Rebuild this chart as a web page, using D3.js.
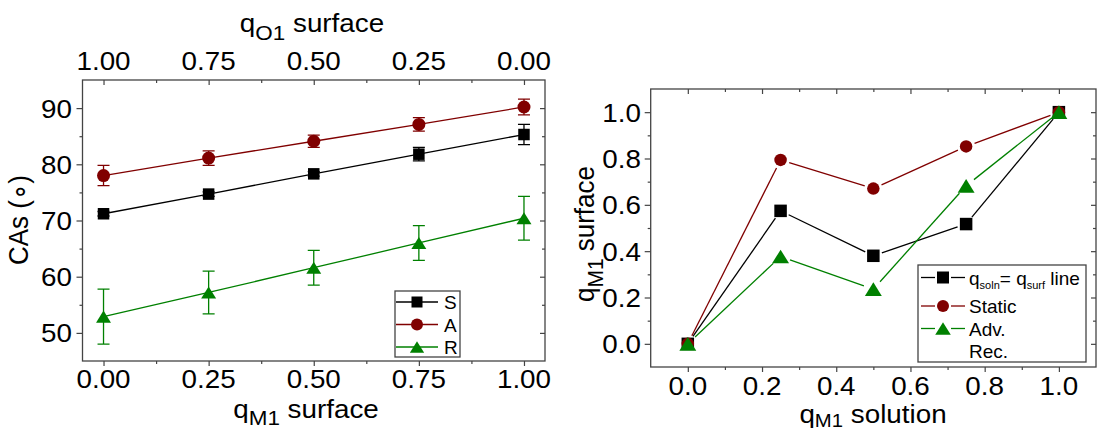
<!DOCTYPE html>
<html><head><meta charset="utf-8">
<script src="https://cdn.jsdelivr.net/npm/d3@7"></script>
<style>html,body{margin:0;padding:0;background:#fff;}svg{display:block;}</style>
</head><body>
<svg id="c" width="1097" height="432"></svg>
<script>
// ---------- data ----------
const qM1Surface = [0, 0.25, 0.5, 0.75, 1.0];
const qO1Ticks = [1.0, 0.75, 0.5, 0.25, 0.0];
const S_vals = [71.2, 74.7, 78.3, 81.8, 85.3];
const S_err  = [0.4, 0.4, 0.4, 1.2, 1.8];
const A_vals = [78.0, 81.1, 84.1, 87.1, 90.2];
const A_err  = [1.8, 1.3, 1.1, 1.2, 1.4];
const R_vals = [52.9, 57.2, 61.6, 66.0, 70.4];
const R_err  = [4.9, 3.8, 3.1, 3.1, 3.9];
const leftYTicks = [50, 60, 70, 80, 90];
const leftXTicks = [0, 0.25, 0.5, 0.75, 1.0];

const qM1Solution = [0, 0.25, 0.5, 0.75, 1.0];
const lineVals   = [0, 0.574, 0.38, 0.517, 1.0];
const staticVals = [0, 0.794, 0.67, 0.852, 1.0];
const advRecVals = [0, 0.377, 0.236, 0.682, 1.0];
const rightTicks = [0, 0.2, 0.4, 0.6, 0.8, 1.0];

const BLACK = "#000000", RED = "#800000", GREEN = "#008000", AXIS = "#444";
const FONT = "'Liberation Sans', Arial, sans-serif";
const SX = 1.07;

const svg = d3.select("#c");

// ---------- helpers ----------
function txt(g, x, y, anchor, size, parts, rot, sx) {
  const k = sx === undefined ? SX : sx;
  const t = g.append("text")
    .attr("transform", rot ? `translate(${x},${y}) rotate(-90) scale(1,${k})` : `translate(${x},${y}) scale(${k},1)`)
    .attr("text-anchor", anchor)
    .attr("font-family", FONT)
    .attr("font-size", size)
    .attr("fill", "#000");
  if (typeof parts === "string") { t.text(parts); return t; }
  parts.forEach(p => {
    const s = t.append("tspan").text(p.t);
    if (p.size) s.attr("font-size", p.size);
    if (p.dy) s.attr("dy", p.dy);
    if (p.dx) s.attr("dx", p.dx);
  });
  return t;
}
function frameAxes(g, x, y, xMaj, xMin, yMaj, yMin) {
  const [x0, x1] = x.range(), [y0, y1] = y.range();
  const mk = (gen, tx, ty) => g.append("g").attr("transform", `translate(${tx},${ty})`).call(gen)
      .call(s => { s.select(".domain").remove(); s.selectAll("text").remove(); s.selectAll("line").attr("stroke", AXIS).attr("stroke-width", 1.2); });
  mk(d3.axisBottom(x).tickValues(xMaj).tickSize(5).tickFormat(""), 0, y0);
  mk(d3.axisBottom(x).tickValues(xMin).tickSize(3).tickFormat(""), 0, y0);
  mk(d3.axisTop(x).tickValues(xMaj).tickSize(-5).tickFormat(""), 0, y1);
  mk(d3.axisTop(x).tickValues(xMin).tickSize(-3).tickFormat(""), 0, y1);
  mk(d3.axisLeft(y).tickValues(yMaj).tickSize(6).tickFormat(""), x0, 0);
  mk(d3.axisLeft(y).tickValues(yMin).tickSize(3).tickFormat(""), x0, 0);
  mk(d3.axisRight(y).tickValues(yMaj).tickSize(-5).tickFormat(""), x1, 0);
  mk(d3.axisRight(y).tickValues(yMin).tickSize(-3).tickFormat(""), x1, 0);
  g.append("rect").attr("x", x0).attr("y", y1).attr("width", x1 - x0).attr("height", y0 - y1)
    .attr("fill", "none").attr("stroke", AXIS).attr("stroke-width", 1.3);
}
function marker(g, type, cx, cy, color, sz) {
  if (type === "square") {
    g.append("rect").attr("x", cx - sz / 2).attr("y", cy - sz / 2).attr("width", sz).attr("height", sz).attr("fill", color);
  } else if (type === "circle") {
    g.append("circle").attr("cx", cx).attr("cy", cy).attr("r", sz / 2).attr("fill", color);
  } else {
    const w = sz * 1.3, h = sz * 1.05;
    g.append("path").attr("d", `M${cx},${cy - h / 2}L${cx + w / 2},${cy + h / 2}L${cx - w / 2},${cy + h / 2}Z`).attr("fill", color);
  }
}

// ---------- left chart ----------
{
  const x = d3.scaleLinear().domain([-0.05, 1.05]).range([82.5, 545]);
  const xTop = d3.scaleLinear().domain([1.05, -0.05]).range([82.5, 545]);
  const y = d3.scaleLinear().domain([45, 95]).range([361, 80]);
  const g = svg.append("g");
  const xMin = [0.125, 0.375, 0.625, 0.875];
  const yMin = [55, 65, 75, 85];
  frameAxes(g, x, y, leftXTicks, xMin, leftYTicks, yMin);

  leftXTicks.forEach(v => txt(g, x(v), 388, "middle", 26, v.toFixed(2)));
  qO1Ticks.forEach(v => txt(g, xTop(v), 70, "middle", 26, v.toFixed(2)));
  leftYTicks.forEach(v => txt(g, 72, y(v) + 9.5, "end", 26, String(v)));

  txt(g, 312, 32, "middle", 26, [{t: "q"}, {t: "O1", size: 21, dy: 8}, {t: " surface", dy: -8}]);
  txt(g, 306, 418, "middle", 26, [{t: "q"}, {t: "M1", size: 21, dy: 7}, {t: " surface", dy: -7}]);
  txt(g, 28, 220, "middle", 26, [{t: "CAs ("}, {t: "∘"}, {t: ")"}], true);

  const series = [
    {v: S_vals, e: S_err, c: BLACK, m: "square", sz: 11.5, name: "S"},
    {v: A_vals, e: A_err, c: RED, m: "circle", sz: 13, name: "A"},
    {v: R_vals, e: R_err, c: GREEN, m: "triangle", sz: 11.5, name: "R"}
  ];
  const line = d3.line().x(d => x(d[0])).y(d => y(d[1]));
  series.forEach(s => {
    const pts = qM1Surface.map((q, i) => [q, s.v[i]]);
    g.append("path").attr("d", line(pts)).attr("fill", "none").attr("stroke", s.c).attr("stroke-width", 1.3);
    pts.forEach((p, i) => {
      const px = x(p[0]), yt = y(p[1] + s.e[i]), yb = y(p[1] - s.e[i]);
      g.append("path").attr("d", `M${px},${yt}V${yb}M${px - 6},${yt}H${px + 6}M${px - 6},${yb}H${px + 6}`)
        .attr("stroke", s.c).attr("stroke-width", 1.3).attr("fill", "none");
    });
    pts.forEach(p => marker(g, s.m, x(p[0]), y(p[1]), s.c, s.sz));
  });
  // legend
  const lg = g.append("g");
  lg.append("rect").attr("x", 395).attr("y", 291).attr("width", 65).attr("height", 66)
    .attr("fill", "#fff").attr("stroke", AXIS).attr("stroke-width", 1.3);
  series.forEach((s, i) => {
    const ly = 302 + i * 22.5;
    lg.append("line").attr("x1", 396).attr("x2", 438).attr("y1", ly).attr("y2", ly).attr("stroke", s.c).attr("stroke-width", 1.3);
    marker(lg, s.m, 417, ly, s.c, s.m === "circle" ? 12 : 11);
    txt(lg, 444, ly + 7, "start", 19, s.name, false, 1.0);
  });
}

// ---------- right chart ----------
{
  const x = d3.scaleLinear().domain([-0.1, 1.1]).range([650.7, 1096]);
  const y = d3.scaleLinear().domain([-0.1, 1.1]).range([367, 89]);
  const g = svg.append("g");
  const minor = [0.1, 0.3, 0.5, 0.7, 0.9];
  frameAxes(g, x, y, rightTicks, minor, rightTicks, minor);

  rightTicks.forEach(v => txt(g, x(v), 395, "middle", 26, v.toFixed(1)));
  rightTicks.forEach(v => txt(g, 641, y(v) + 9.5, "end", 26, v.toFixed(1)));
  txt(g, 873, 423, "middle", 26, [{t: "q"}, {t: "M1", size: 19, dy: 4}, {t: " solution", dy: -4}]);
  txt(g, 594, 234, "middle", 26, [{t: "q"}, {t: "M1", size: 21, dy: 8}, {t: "surface", dy: -8, dx: 7}], true);

  const series = [
    {v: lineVals, c: BLACK, m: "square", sz: 12.5, gap: 9},
    {v: staticVals, c: RED, m: "circle", sz: 12.5, gap: 9},
    {v: advRecVals, c: GREEN, m: "triangle", sz: 13, gap: 10}
  ];
  series.forEach(s => {
    const pts = qM1Solution.map((q, i) => [x(q), y(s.v[i])]);
    for (let i = 0; i < pts.length - 1; i++) {
      const [ax, ay] = pts[i], [bx, by] = pts[i + 1];
      const L = Math.hypot(bx - ax, by - ay), ux = (bx - ax) / L, uy = (by - ay) / L;
      g.append("line")
        .attr("x1", ax + ux * s.gap).attr("y1", ay + uy * s.gap)
        .attr("x2", bx - ux * s.gap).attr("y2", by - uy * s.gap)
        .attr("stroke", s.c).attr("stroke-width", 1.3);
    }
  });
  series.forEach(s => qM1Solution.forEach((q, i) => marker(g, s.m, x(q), y(s.v[i]), s.c, s.sz)));

  // legend
  const lg = g.append("g");
  lg.append("rect").attr("x", 918).attr("y", 265).attr("width", 168).attr("height", 97)
    .attr("fill", "#fff").attr("stroke", AXIS).attr("stroke-width", 1.3);
  const rows = [277.5, 306, 328.5];
  series.forEach((s, i) => {
    const ly = rows[i];
    lg.append("line").attr("x1", 921).attr("x2", 935).attr("y1", ly).attr("y2", ly).attr("stroke", s.c).attr("stroke-width", 1.3);
    lg.append("line").attr("x1", 951).attr("x2", 965).attr("y1", ly).attr("y2", ly).attr("stroke", s.c).attr("stroke-width", 1.3);
    marker(lg, s.m, 943, ly, s.c, 12);
  });
  txt(lg, 969, 284.5, "start", 19, [{t: "q"}, {t: "soln", size: 11, dy: 4}, {t: "= q", dy: -4}, {t: "surf", size: 11, dy: 4}, {t: " line", dy: -4}], false, 1.0);
  txt(lg, 969, 313, "start", 19, "Static", false, 1.0);
  txt(lg, 969, 335.5, "start", 19, "Adv.", false, 1.0);
  txt(lg, 969, 357.5, "start", 19, "Rec.", false, 1.0);
}
</script>
</body></html>
